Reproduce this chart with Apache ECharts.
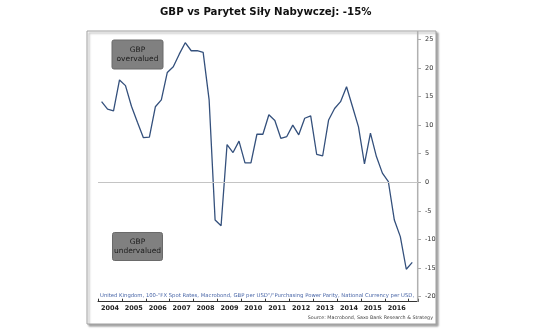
<!DOCTYPE html>
<html>
<head>
<meta charset="utf-8">
<script src="https://cdn.jsdelivr.net/npm/echarts@6/dist/echarts.min.js"></script>
<style>html,body{margin:0;padding:0;background:#fff}#c{width:536px;height:332px}</style>
</head>
<body>
<div id="c"></div>
<script>
// Quarterly observations, 2004Q1 .. 2017Q1
const startYear = 2004;
const gbpVsPpp = [
  14.1, 12.8, 12.5, 17.9,
  16.9, 13.3, 10.5, 7.8,
  7.9, 13.2, 14.4, 19.2,
  20.2, 22.4, 24.4, 23.0,
  23.0, 22.7, 14.4, -6.6,
  -7.6, 6.6, 5.2, 7.2,
  3.4, 3.4, 8.4, 8.4,
  11.8, 10.8, 7.7, 8.0,
  10.0, 8.3, 11.2, 11.6,
  4.9, 4.6, 10.9, 12.9,
  14.1, 16.7, 13.2, 9.7,
  3.2, 8.6, 4.5, 1.6,
  0.1, -6.6, -9.5, -15.2,
  -14.0
];
const yearLabels = ['2004','2005','2006','2007','2008','2009','2010','2011','2012','2013','2014','2015','2016'];
const yTicks = { min: -20, max: 25, interval: 5 };
const titleText = 'GBP vs Parytet Siły Nabywczej: -15%';
const noteOver = 'GBP\novervalued';
const noteUnder = 'GBP\nundervalued';
const seriesNote = 'United Kingdom, 100-"FX Spot Rates, Macrobond, GBP per USD"/"Purchasing Power Parity, National Currency per USD, OECD E';
const sourceText = 'Source: Macrobond, Saxo Bank Research & Strategy';

const points = gbpVsPpp.map((v, i) => [startYear + (i + 0.6) / 4, v]);
const xMax = 2017.39;

const chart = echarts.init(document.getElementById('c'), null, {renderer: 'canvas'});
chart.setOption({
  animation: false,
  backgroundColor: '#fff',
  title: {
    text: titleText, left: 155, top: 2,
    textStyle: {fontFamily: 'DejaVu Sans', fontWeight: 'bold', fontSize: 10.2, color: '#111'}
  },
  grid: {left: 98, width: 320, top: 39.3, height: 257.4},
  xAxis: [{
    type: 'value', min: startYear, max: xMax, interval: 1, offset: 5,
    axisLine: {show: true, onZero: false, lineStyle: {color: '#333', width: 1}},
    axisTick: {show: true, inside: true, length: 3, lineStyle: {color: '#333'}},
    axisLabel: {show: false}, splitLine: {show: false}
  }, {
    type: 'value', min: startYear, max: xMax, interval: 0.5, offset: 5, position: 'bottom',
    axisLine: {show: false, onZero: false}, axisTick: {show: false}, splitLine: {show: false},
    axisLabel: {
      show: true, margin: 3, color: '#222', fontFamily: 'DejaVu Sans', fontWeight: 'bold', fontSize: 6.5,
      showMinLabel: true, showMaxLabel: true,
      formatter: v => {
        const f = v - Math.floor(v);
        if (Math.abs(f - 0.5) < 0.01) {
          const idx = Math.floor(v) - startYear;
          return yearLabels[idx] || '';
        }
        return '';
      }
    }
  }],
  yAxis: {
    type: 'value', position: 'right', min: yTicks.min, max: yTicks.max, interval: yTicks.interval,
    axisLine: {show: false},
    axisTick: {show: true, length: 3, lineStyle: {color: '#aaa'}},
    axisLabel: {margin: 7, color: '#333', fontFamily: 'DejaVu Sans', fontSize: 6.5},
    splitLine: {show: false}
  },
  series: [{
    type: 'line', data: points, xAxisIndex: 0, showSymbol: false, symbol: 'none',
    lineStyle: {color: '#34507c', width: 1.3}, z: 3,
    markLine: {
      silent: true, symbol: 'none', label: {show: false},
      lineStyle: {color: '#c4c4c4', width: 1.2, type: 'solid'},
      data: [{yAxis: 0}]
    }
  }],
  graphic: [
    {type: 'rect', shape: {x: 87, y: 31, width: 349, height: 293}, z: 0,
     style: {fill: '#fff', stroke: '#a0a0a0', lineWidth: 1, shadowBlur: 2, shadowOffsetX: 2, shadowOffsetY: 2, shadowColor: 'rgba(0,0,0,0.35)'}},
    {type: 'line', shape: {x1: 417.7, y1: 31, x2: 417.7, y2: 301.7}, z: 2,
     style: {stroke: '#b0b0b0', lineWidth: 1.5}},
    {type: 'rect', shape: {x: 112, y: 40, width: 51, height: 29, r: 2}, z: 5,
     style: {fill: '#808080', stroke: '#6a6a6a', lineWidth: 1}},
    {type: 'text', x: 137.5, y: 54.5, z: 6,
     style: {text: noteOver, fill: '#1c1c1c', font: '7.5px "DejaVu Sans"', align: 'center', verticalAlign: 'middle', lineHeight: 9.5}},
    {type: 'rect', shape: {x: 112.5, y: 232.5, width: 50, height: 28, r: 2}, z: 5,
     style: {fill: '#808080', stroke: '#6a6a6a', lineWidth: 1}},
    {type: 'text', x: 137.5, y: 246.5, z: 6,
     style: {text: noteUnder, fill: '#1c1c1c', font: '7.5px "DejaVu Sans"', align: 'center', verticalAlign: 'middle', lineHeight: 9.5}},
    {type: 'text', x: 100, y: 295.5, z: 6,
     style: {text: seriesNote, fill: '#4a67a8', font: '5.3px "DejaVu Sans"', align: 'left', verticalAlign: 'middle', width: 316, overflow: 'truncate', ellipsis: ''}},
    {type: 'text', x: 433, y: 318, z: 6,
     style: {text: sourceText, fill: '#444', font: '4.8px "DejaVu Sans"', align: 'right', verticalAlign: 'middle'}}
  ]
});
</script>
</body>
</html>
